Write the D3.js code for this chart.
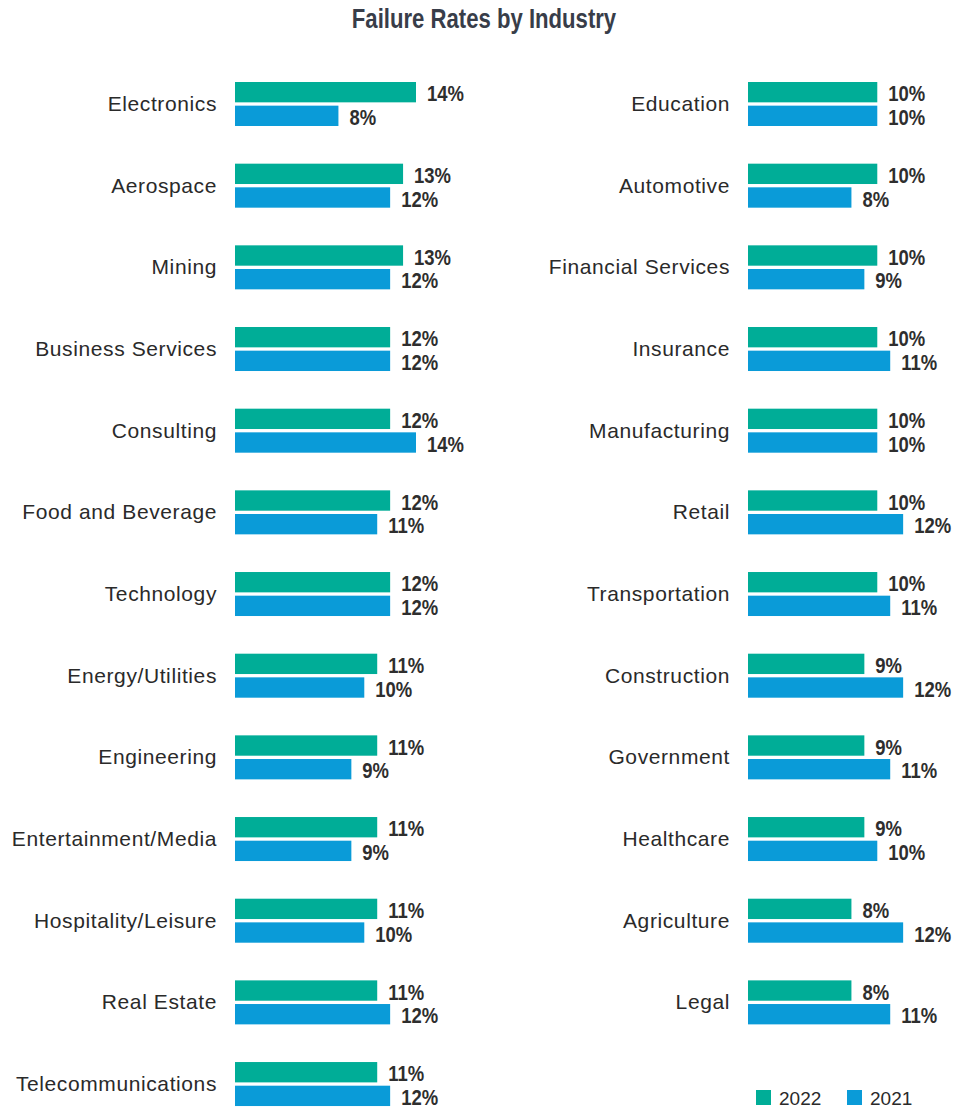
<!DOCTYPE html>
<html>
<head>
<meta charset="utf-8">
<script src="https://cdn.jsdelivr.net/npm/d3@7"></script>
<style>
  body { margin: 0; background: #fff; }
  svg { display: block; }
</style>
</head>
<body>
<svg id="chart" width="972" height="1109"></svg>
<script>
// industries, in the order they are listed
var leftIndustries = ["Electronics", "Aerospace", "Mining", "Business Services", "Consulting",
  "Food and Beverage", "Technology", "Energy/Utilities", "Engineering", "Entertainment/Media",
  "Hospitality/Leisure", "Real Estate", "Telecommunications"];
var left2022 = [14, 13, 13, 12, 12, 12, 12, 11, 11, 11, 11, 11, 11];
var left2021 = [8, 12, 12, 12, 14, 11, 12, 10, 9, 9, 10, 12, 12];

var rightIndustries = ["Education", "Automotive", "Financial Services", "Insurance", "Manufacturing",
  "Retail", "Transportation", "Construction", "Government", "Healthcare", "Agriculture", "Legal"];
var right2022 = [10, 10, 10, 10, 10, 10, 10, 9, 9, 9, 8, 8];
var right2021 = [10, 8, 9, 11, 10, 12, 11, 12, 11, 10, 12, 11];

var years = ["2022", "2021"];
var colors = { "2022": "#00ad97", "2021": "#0a9bd8" };

var svg = d3.select("#chart");

// no narrow font here, so squeeze bold text horizontally
svg.append("text")
  .attr("transform", "translate(484,28) scale(0.82,1)")
  .attr("text-anchor", "middle")
  .style("font-family", "'Liberation Sans', Arial, sans-serif")
  .style("font-weight", "bold")
  .style("font-size", "27px")
  .style("fill", "#383d49")
  .text("Failure Rates by Industry");

var x = d3.scaleLinear().domain([0, 14]).range([0, 181]);
var rowStep = 81.67;
var inner = d3.scaleBand().domain(years).range([0, 44]).paddingInner(0.14);

function panel(x0, names, v22, v21) {
  var y = d3.scaleBand().domain(names).range([82, 82 + names.length * rowStep]).paddingInner(0).align(0);
  var g = svg.append("g").attr("transform", "translate(" + x0 + ",0)");
  var rows = g.selectAll("g.row").data(names).enter().append("g")
    .attr("class", "row")
    .attr("transform", function(d) { return "translate(0," + y(d) + ")"; });

  rows.append("text")
    .attr("x", -18).attr("y", 22 + 7)
    .attr("text-anchor", "end")
    .style("font-family", "'Liberation Sans', Arial, sans-serif")
    .style("font-size", "21px")
    .style("letter-spacing", "0.6px")
    .style("fill", "#2a2a2a")
    .text(function(d) { return d; });

  rows.each(function(d, i) {
    var row = d3.select(this);
    var vals = { "2022": v22[i], "2021": v21[i] };
    years.forEach(function(yr) {
      row.append("rect")
        .attr("x", 0)
        .attr("y", inner(yr))
        .attr("width", x(vals[yr]))
        .attr("height", inner.bandwidth())
        .attr("fill", colors[yr]);
      row.append("text")
        .attr("transform", "translate(" + (x(vals[yr]) + 11) + "," + (inner(yr) + inner.bandwidth() - 1) + ") scale(0.84,1)")
        .style("font-family", "'Liberation Sans', Arial, sans-serif")
        .style("font-weight", "bold")
        .style("font-size", "22px")
        .style("fill", "#2e2e2e")
        .text(vals[yr] + "%");
    });
  });
}

panel(235, leftIndustries, left2022, left2021);
panel(748, rightIndustries, right2022, right2021);

// legend
var legend = svg.append("g");
var legendX = { "2022": 756, "2021": 847 };
years.forEach(function(yr) {
  legend.append("rect")
    .attr("x", legendX[yr]).attr("y", 1090)
    .attr("width", 15).attr("height", 15)
    .attr("fill", colors[yr]);
  legend.append("text")
    .attr("x", legendX[yr] + 23).attr("y", 1105)
    .style("font-family", "'Liberation Sans', Arial, sans-serif")
    .style("font-size", "19px")
    .style("fill", "#2a2a2a")
    .text(yr);
});
</script>
</body>
</html>
